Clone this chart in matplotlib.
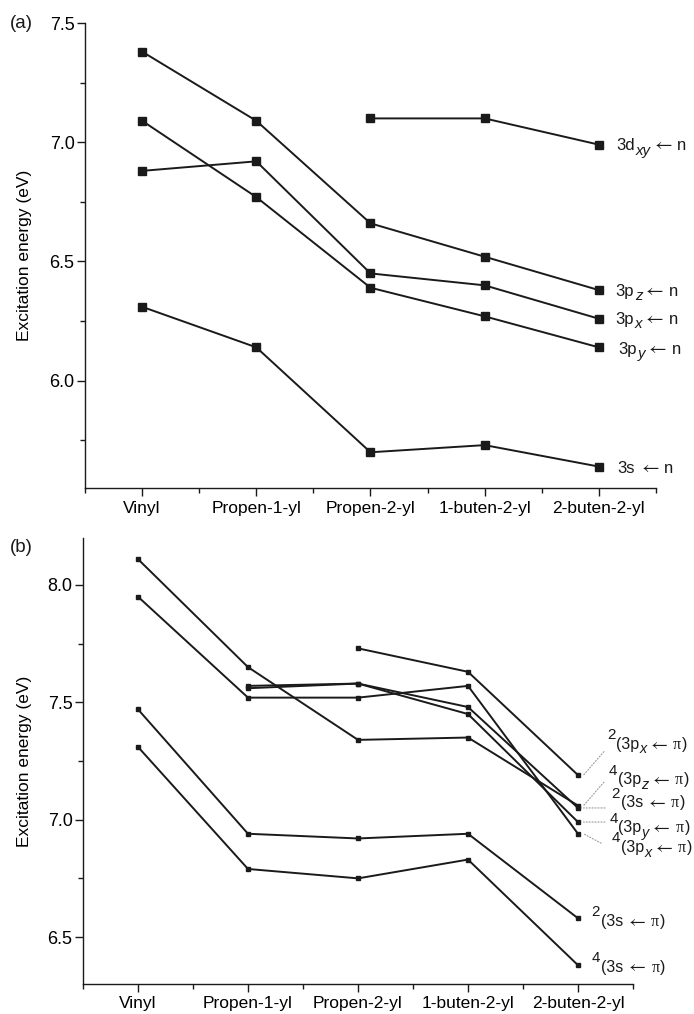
import numpy as np
import matplotlib
matplotlib.use("Agg")
import matplotlib.pyplot as plt
from matplotlib.ticker import FixedLocator, FormatStrFormatter

nan = np.nan

# ---------------- data ----------------
categories = ['Vinyl', 'Propen-1-yl', 'Propen-2-yl', '1-buten-2-yl', '2-buten-2-yl']

# panel (a): n-Rydberg excitations (eV)
a_3dxy = [nan, nan, 7.10, 7.10, 6.99]
a_3pz = [7.38, 7.09, 6.66, 6.52, 6.38]
a_3px = [6.88, 6.92, 6.45, 6.40, 6.26]
a_3py = [7.09, 6.77, 6.39, 6.27, 6.14]
a_3s = [6.31, 6.14, 5.70, 5.73, 5.64]

# panel (b): pi-Rydberg excitations (eV)
b_2_3px = [nan, nan, 7.73, 7.63, 7.19]
b_4_3pz = [8.11, 7.65, 7.34, 7.35, 7.06]
b_2_3s_hi = [nan, 7.57, 7.58, 7.48, 7.05]
b_4_3py = [nan, 7.56, 7.58, 7.45, 6.99]
b_4_3px = [7.95, 7.52, 7.52, 7.57, 6.94]
b_2_3s = [7.47, 6.94, 6.92, 6.94, 6.58]
b_4_3s = [7.31, 6.79, 6.75, 6.83, 6.38]

a_series = [a_3dxy, a_3pz, a_3px, a_3py, a_3s]
b_series = [b_2_3px, b_4_3pz, b_2_3s_hi, b_4_3py, b_4_3px, b_2_3s, b_4_3s]

# label pieces: (text, kind, gap before in em)
ARW = r'$\leftarrow$'
PI = '\u03c0'
a_labels = [
    [('3d', 'n', 0), ('xy', 'sub', 0), (ARW, 'arrow', 0.02), ('n', 'n', 0.2)],
    [('3p', 'n', 0), ('z', 'sub', 0), (ARW, 'arrow', 0.02), ('n', 'n', 0.2)],
    [('3p', 'n', 0), ('x', 'sub', 0), (ARW, 'arrow', 0.02), ('n', 'n', 0.2)],
    [('3p', 'n', 0), ('y', 'sub', 0), (ARW, 'arrow', 0.02), ('n', 'n', 0.2)],
    [('3s', 'n', 0), (ARW, 'arrow', 0.16), ('n', 'n', 0.2)],
]
b_labels = [
    [('2', 'sup', 0), ('(3p', 'n', 0.0), ('x', 'sub', 0), (ARW, 'arrow', 0.02), (PI, 'pi', 0.24), (')', 'n', 0.02)],
    [('4', 'sup', 0), ('(3p', 'n', 0.0), ('z', 'sub', 0), (ARW, 'arrow', 0.02), (PI, 'pi', 0.24), (')', 'n', 0.02)],
    [('2', 'sup', 0), ('(3s', 'n', 0.0), (ARW, 'arrow', 0.16), (PI, 'pi', 0.24), (')', 'n', 0.02)],
    [('4', 'sup', 0), ('(3p', 'n', 0.0), ('y', 'sub', 0), (ARW, 'arrow', 0.02), (PI, 'pi', 0.24), (')', 'n', 0.02)],
    [('4', 'sup', 0), ('(3p', 'n', 0.0), ('x', 'sub', 0), (ARW, 'arrow', 0.02), (PI, 'pi', 0.24), (')', 'n', 0.02)],
    [('2', 'sup', 0), ('(3s', 'n', 0.0), (ARW, 'arrow', 0.16), (PI, 'pi', 0.24), (')', 'n', 0.02)],
    [('4', 'sup', 0), ('(3s', 'n', 0.0), (ARW, 'arrow', 0.16), (PI, 'pi', 0.24), (')', 'n', 0.02)],
]

# ---------------- style ----------------
plt.rcParams['font.family'] = ['Liberation Sans', 'DejaVu Sans']
plt.rcParams['mathtext.fontset'] = 'stixsans'
plt.rcParams['axes.linewidth'] = 1.0

INK = '#1a1a1a'
fig = plt.figure(figsize=(6.94, 10.14), dpi=100)
axA = fig.add_axes([0.1225, 0.5187, 0.8227, 0.4586])
axB = fig.add_axes([0.1196, 0.0296, 0.7925, 0.4398])
renderer = fig.canvas.get_renderer()

x = np.arange(1, len(categories) + 1)


def style_axes(ax, ylim, yticks, yminor):
    ax.set_xlim(0.5, 5.5)
    ax.set_ylim(*ylim)
    ax.spines['top'].set_visible(False)
    ax.spines['right'].set_visible(False)
    for s in ('left', 'bottom'):
        ax.spines[s].set_color(INK)
    ax.set_xticks(x)
    ax.set_xticklabels(categories, fontsize=12.5)
    ax.xaxis.set_minor_locator(FixedLocator(np.arange(0.5, 5.6, 1.0)))
    ax.set_yticks(yticks)
    ax.yaxis.set_major_formatter(FormatStrFormatter('%.1f'))
    ax.yaxis.set_minor_locator(FixedLocator(yminor))
    ax.tick_params(axis='both', which='major', direction='out', length=6, width=1.0, color=INK)
    ax.tick_params(axis='both', which='minor', direction='out', length=3.5, width=1.0, color=INK)
    ax.tick_params(axis='x', which='major', pad=3)
    ax.tick_params(axis='y', which='major', pad=1.5, labelsize=13)
    ax.set_ylabel('Excitation energy (eV)', fontsize=12.5)
    ax.yaxis.set_label_coords(-0.093, 0.5)


def rich_label(ax, x0, y0, parts, size):
    """Draw a label made of pieces (normal / sub / sup / arrow / pi) on one baseline."""
    dx = 0.0
    for txt, kind, gap in parts:
        dx += gap * size
        kw = dict(fontsize=size, family=['Liberation Sans', 'DejaVu Sans'], style='normal')
        dy = 0.0
        if kind == 'sub':
            kw.update(fontsize=size * 0.9, style='italic')
            dy = -0.28 * size
        elif kind == 'sup':
            kw.update(fontsize=size * 0.95)
            dy = 0.6 * size
        elif kind == 'arrow':
            kw.update(fontsize=size * 1.15)
            dy = 0.0
        elif kind == 'pi':
            kw.update(family=['Liberation Serif', 'DejaVu Serif'])
        t = ax.annotate(txt, xy=(x0, y0), xycoords='data', xytext=(dx, dy),
                        textcoords='offset points', ha='left', va='baseline',
                        color=INK, annotation_clip=False, **kw)
        dx += t.get_window_extent(renderer).width * 72.0 / fig.dpi + 0.04 * size


style_axes(axA, (5.55, 7.5), [6.0, 6.5, 7.0, 7.5], [5.75, 6.25, 6.75, 7.25])
style_axes(axB, (6.3, 8.2), [6.5, 7.0, 7.5, 8.0], [6.75, 7.25, 7.75])

# panel (a)
for ys in a_series:
    axA.plot(x, ys, color=INK, lw=1.4, marker='s', ms=5.3, mfc=INK, mec=INK, clip_on=False)

a_text_pos = [(5.155, 6.966), (5.148, 6.357), (5.148, 6.239), (5.172, 6.113), (5.165, 5.613)]
for parts, (tx, ty) in zip(a_labels, a_text_pos):
    rich_label(axA, tx, ty, parts, 12)

# panel (b)
for ys in b_series:
    axB.plot(x, ys, color=INK, lw=1.4, marker='s', ms=3, mfc=INK, mec=INK, clip_on=False)

b_text_pos = [(5.262, 7.302), (5.278, 7.150), (5.305, 7.053), (5.285, 6.947),
              (5.305, 6.862), (5.125, 6.548), (5.125, 6.353)]
for parts, (tx, ty) in zip(b_labels, b_text_pos):
    rich_label(axB, tx, ty, parts, 11.5)

# dotted leader lines from the end markers to the crowded labels
leader_ends = [(5.236, 7.29), (5.236, 7.16), (5.245, None), (5.245, None), (5.21, 6.90)]
for ys, (ex, ey) in zip(b_series[:5], leader_ends):
    y0 = ys[-1]
    axB.annotate('', xy=(5.05, y0), xytext=(ex, y0 if ey is None else ey),
                 arrowprops=dict(arrowstyle='-', linestyle=':', color='#9a9a9a', lw=0.8,
                                 shrinkA=0, shrinkB=0),
                 annotation_clip=False)

fig.text(10 / 694, 1 - 23 / 1014, '(a)', fontsize=13.5, va='center', ha='left', color=INK)
fig.text(10 / 694, 1 - 548 / 1014, '(b)', fontsize=13.5, va='center', ha='left', color=INK)

fig.savefig('out.png', dpi=100)
